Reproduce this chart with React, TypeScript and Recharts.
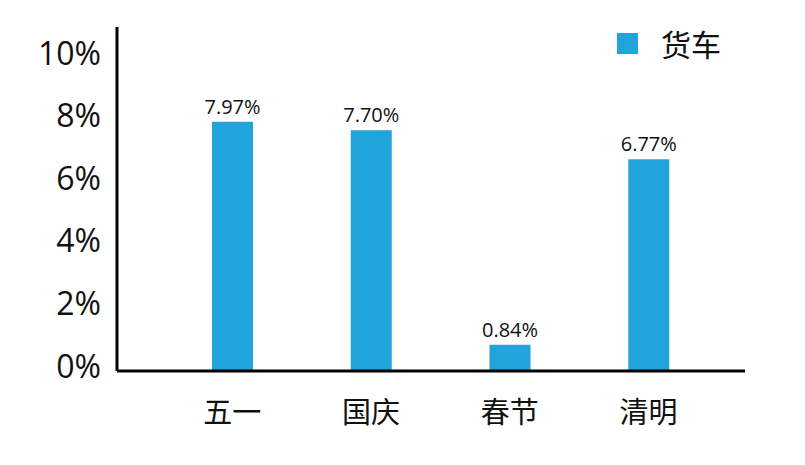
import React from "react";
import { BarChart, Bar, XAxis, YAxis, LabelList } from "recharts";

const categories = ["五一", "国庆", "春节", "清明"];
const truckValues = [7.97, 7.7, 0.84, 6.77];
const yTicks = [0, 2, 4, 6, 8, 10];
const seriesName = "货车";

const data = categories.map((c, i) => ({ name: c, truck: truckValues[i] }));

const BLUE = "#21a3db";
const FONT = "'Open Sans', 'Noto Sans', sans-serif";
const CJK = "'Noto Sans CJK SC', sans-serif";

const YTick = (props: any) => {
  const { x, y, payload } = props;
  return (
    <text x={x - 8} y={y - 5} dy="0.36em" textAnchor="end" fontSize={32} fontFamily={FONT} fill="#111">
      {payload.value}%
    </text>
  );
};

const XTick = (props: any) => {
  const { x, y, payload } = props;
  return (
    <text x={x} y={y + 34} dy="0.36em" textAnchor="middle" fontSize={29} fontFamily={CJK} fill="#111">
      {payload.value}
    </text>
  );
};

export default function App() {
  return (
    <div style={{ width: 789, height: 449, background: "#fff", position: "relative" }}>
      <BarChart width={789} height={449} data={data} margin={{ top: 19, right: 52, bottom: 26, left: 0 }}>
        <YAxis
          domain={[0, 11]}
          ticks={yTicks}
          width={109}
          axisLine={{ stroke: "#000", strokeWidth: 3 }}
          tickLine={false}
          tick={<YTick />}
          interval={0}
          allowDataOverflow
        />
        <XAxis
          dataKey="name"
          height={60}
          padding={{ left: 46, right: 27 }}
          axisLine={{ stroke: "#000", strokeWidth: 3 }}
          tickLine={false}
          tick={<XTick />}
          interval={0}
        />
        <Bar dataKey="truck" name={seriesName} fill={BLUE} barSize={41} isAnimationActive={false}>
          <LabelList
            dataKey="truck"
            position="top"
            offset={8}
            formatter={(v: any) => `${Number(v).toFixed(2)}%`}
            style={{ fontSize: 20, fontFamily: FONT, fill: "#111" }}
          />
        </Bar>
      </BarChart>
      <div style={{ position: "absolute", left: 609, top: 20, display: "flex", alignItems: "center" }}>
        <div style={{ width: 21, height: 21, background: BLUE }} />
        <span style={{ marginLeft: 23, fontSize: 30, fontFamily: CJK, color: "#111", lineHeight: "30px" }}>{seriesName}</span>
      </div>
    </div>
  );
}
